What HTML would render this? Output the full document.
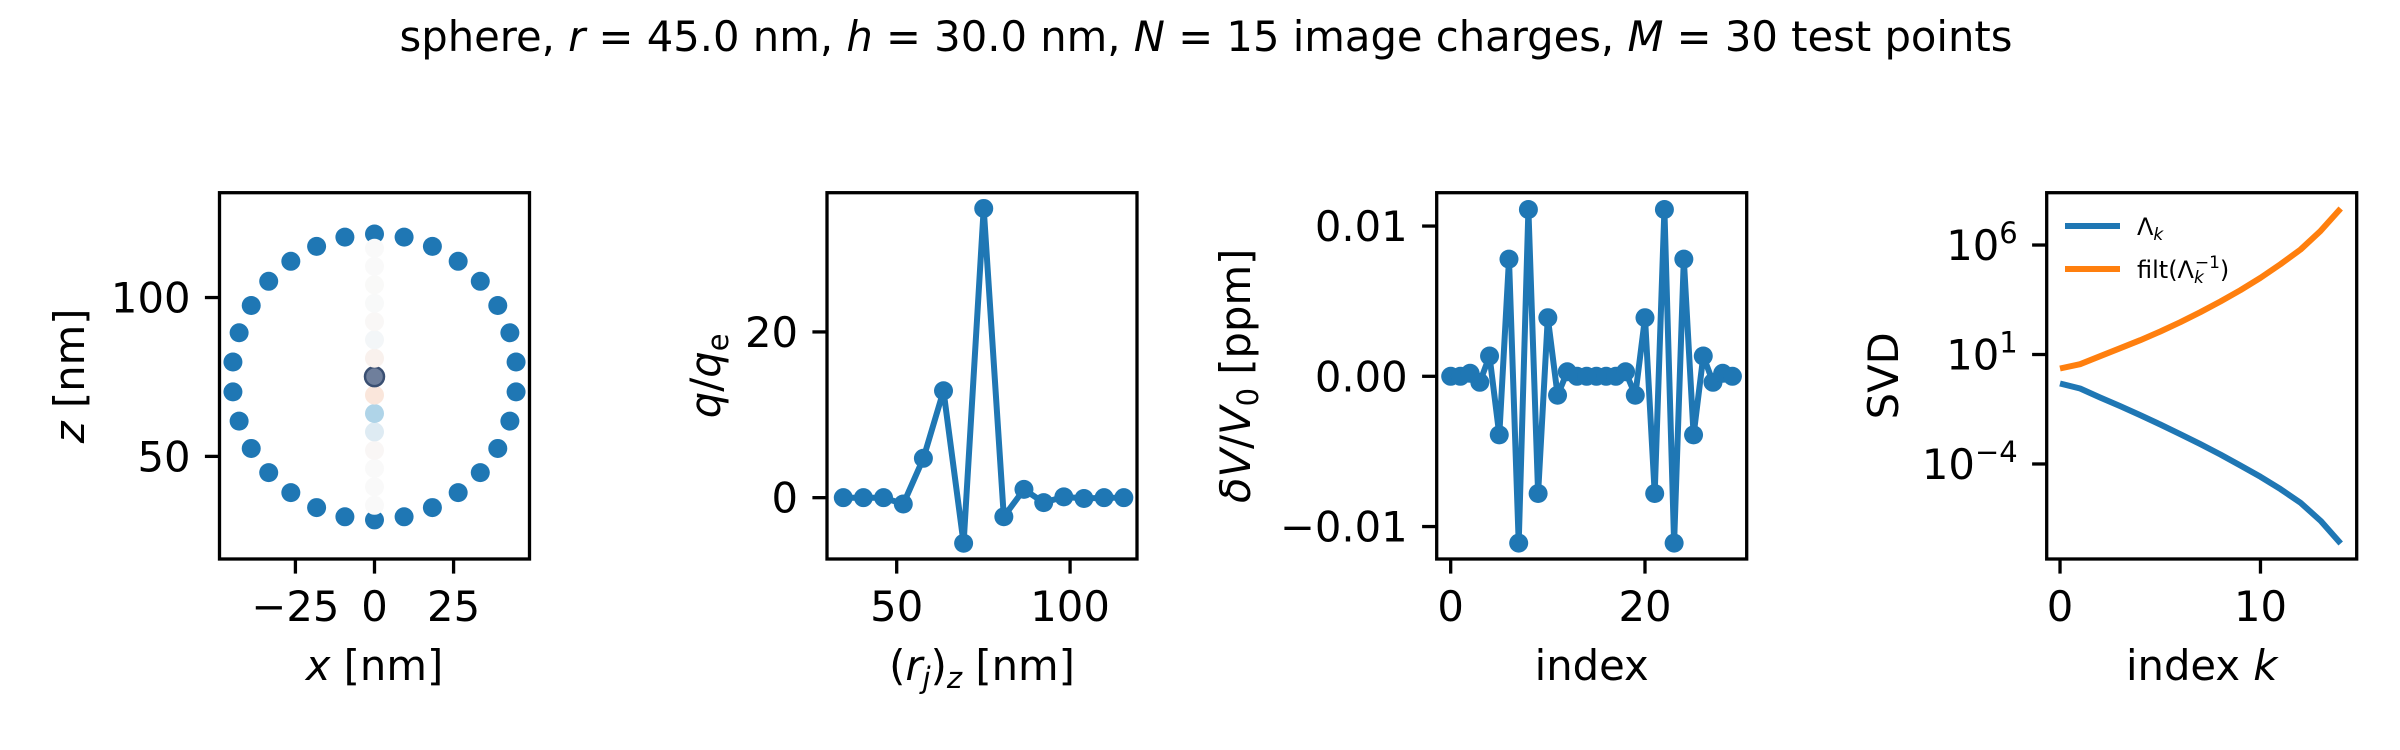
<!DOCTYPE html>
<html><head><meta charset="utf-8">
<style>
html,body{margin:0;padding:0;background:#fff;}
svg{display:block;font-family:"DejaVu Sans","Liberation Sans",sans-serif;}
text{fill:#000;}
</style></head>
<body>
<svg id="fig" width="2400" height="750" viewBox="0 0 2400 750" xmlns="http://www.w3.org/2000/svg">
<rect width="2400" height="750" fill="#fff"/>
<text x="1206" y="51" font-size="41.7" text-anchor="middle">sphere, <tspan font-style="italic">r</tspan> = 45.0 nm, <tspan font-style="italic">h</tspan> = 30.0 nm, <tspan font-style="italic">N</tspan> = 15 image charges, <tspan font-style="italic">M</tspan> = 30 test points</text>
<g id="p1"></g>
<g id="p2"></g>
<g id="p3"></g>
<g id="p4"></g>
</svg>
<script>
// ---- data ----
const chargeZ = [34.6, 40.4, 46.2, 51.9, 57.7, 63.5, 69.3, 75.1, 80.9, 86.7, 92.4, 98.2, 104.0, 109.8, 115.5];
const chargeQ = [0, 0, 0, -0.76, 4.75, 12.9, -5.5, 34.9, -2.3, 1.0, -0.6, 0.1, -0.1, 0, 0];
const sphereRadius = 45;
const sphereCenterZ = 75;
const testPointCount = 30;
const residualValues = [0, 0, 0.0002, -0.0004, 0.00135, -0.0039, 0.0078, -0.0111, 0.0111, -0.0078, 0.0039, -0.00126, 0.0003, 0, 0, 0, 0, 0, 0.0003, -0.00126, 0.0039, -0.0078, 0.0111, -0.0111, 0.0078, -0.0039, 0.00135, -0.0004, 0.0002, 0];
const lambdaValues = [0.474, 0.280, 0.109, 0.0438, 0.0170, 0.00637, 0.00230, 8.05e-4, 2.72e-4, 8.55e-5, 2.59e-5, 7.10e-6, 1.69e-6, 2.54e-7, 2.34e-8];
const filtInvValues = [2.30, 3.62, 8.39, 19.5, 45.1, 112, 299, 857, 2630, 8670, 3.17e4, 1.33e5, 6.24e5, 4.44e6, 4.65e7];
const p1XTicks = [-25, 0, 25];
const p1YTicks = [50, 100];
const p2XTicks = [50, 100];
const p2YTicks = [0, 20];
const p3XTicks = [0, 20];
const p3YTicks = [-0.01, 0, 0.01];
const p3YTickLabels = ["\u22120.01", "0.00", "0.01"];
const p4XTicks = [0, 10];
const p4YTickExps = [-4, 1, 6];

const NS = "http://www.w3.org/2000/svg";
const BLUE = "#1f77b4", ORANGE = "#ff7f0e";
const TOP = 192.7, BOT = 559, W = 310;
const MR = 9.5, LW = 6;
function el(tag, attrs, parent) {
  const e = document.createElementNS(NS, tag);
  for (const k in attrs) e.setAttribute(k, attrs[k]);
  parent.appendChild(e);
  return e;
}
function lin(d0, d1, r0, r1) { return v => r0 + (v - d0) / (d1 - d0) * (r1 - r0); }
function fmt(v) { return (v < 0 ? "\u2212" : "") + Math.abs(v); }

function frame(g, L) {
  const r = el("rect", {x: L, y: TOP, width: W, height: BOT - TOP, fill: "none", stroke: "#000", "stroke-width": 3.3}, g);
  
  
}
function xTicks(g, ticks, sx, labels) {
  ticks.forEach((t, i) => {
    const x = sx(t);
    const l = el("line", {x1: x, x2: x, y1: BOT, y2: BOT + 14.6, stroke: "#000", "stroke-width": 3.3}, g);
    
    
    const tx = el("text", {x: x, y: 621, "font-size": 41.7, "text-anchor": "middle"}, g);
    tx.textContent = labels ? labels[i] : fmt(t);
    
    
  });
}
function yTicks(g, L, ticks, sy, labels) {
  ticks.forEach((t, i) => {
    const y = sy(t);
    const l = el("line", {x1: L - 14.6, x2: L, y1: y, y2: y, stroke: "#000", "stroke-width": 3.3}, g);
    
    
    const tx = el("text", {x: L - 29, y: y + 15, "font-size": 41.7, "text-anchor": "end"}, g);
    tx.textContent = labels ? labels[i] : fmt(t);
    
    
  });
}
function xLabel(g, L, html) {
  const t = el("text", {x: L + W / 2, y: 680, "font-size": 41.7, "text-anchor": "middle"}, g);
  t.innerHTML = html;
  
  
}
function yLabel(g, bx, html) {
  const cy = (TOP + BOT) / 2;
  const t = el("text", {x: bx, y: cy, "font-size": 41.7, "text-anchor": "middle", transform: `rotate(-90 ${bx} ${cy})`}, g);
  t.innerHTML = html;
  
  
}
function mix(a, b, t) { return a.map((v, i) => Math.round(v + (b[i] - v) * t)); }
function chargeColor(q) {
  const t = Math.min(1, Math.abs(q) / 35);
  let c;
  if (q >= 0) {
    c = t < 0.37 ? mix([249,249,249], [175,212,232], t / 0.37) : mix([175,212,232], [55,80,120], (t - 0.37) / 0.63);
  } else {
    c = mix([249,249,249], [255,130,60], t);
  }
  return `rgb(${c[0]},${c[1]},${c[2]})`;
}

// ---- panel 1 ----
(function () {
  const g = document.getElementById("p1"), L = 219.5;
  const sx = lin(-49, 49, L, L + W), sy = lin(17.7, 133, BOT, TOP);
  for (let i = 0; i < testPointCount; i++) {
    const th = i * 2 * Math.PI / testPointCount;
    const c = el("circle", {cx: sx(sphereRadius * Math.sin(th)), cy: sy(sphereCenterZ + sphereRadius * Math.cos(th)), r: MR, fill: BLUE}, g);
    
    
  }
  chargeZ.forEach((z, i) => {
    const c = el("circle", {cx: sx(0), cy: sy(z), r: MR, fill: chargeColor(chargeQ[i])}, g);
    if (chargeQ[i] > 30) { c.setAttribute("stroke", "#3a4f72"); c.setAttribute("stroke-width", 2.5); c.setAttribute("fill", "#6f7f9c"); }
    
    
  });
  frame(g, L);
  xTicks(g, p1XTicks, sx);
  yTicks(g, L, p1YTicks, sy);
  xLabel(g, L, '<tspan font-style="italic">x</tspan> [nm]');
  yLabel(g, 84, '<tspan font-style="italic">z</tspan> [nm]');
})();

// ---- panel 2 ----
(function () {
  const g = document.getElementById("p2"), L = 827;
  const sx = lin(29.9, 119.3, L, L + W), sy = lin(-7.4, 36.8, BOT, TOP);
  const pts = chargeZ.map((z, i) => sx(z).toFixed(1) + "," + sy(chargeQ[i]).toFixed(1)).join(" ");
  const pl = el("polyline", {points: pts, fill: "none", stroke: BLUE, "stroke-width": LW, "stroke-linejoin": "round"}, g);
  
  
  chargeZ.forEach((z, i) => {
    const c = el("circle", {cx: sx(z), cy: sy(chargeQ[i]), r: MR, fill: BLUE}, g);
    
    
  });
  frame(g, L);
  xTicks(g, p2XTicks, sx);
  yTicks(g, L, p2YTicks, sy);
  xLabel(g, L, '(<tspan font-style="italic">r</tspan><tspan font-style="italic" font-size="29" dy="8">j</tspan><tspan dy="-8">)</tspan><tspan font-style="italic" font-size="29" dy="8">z</tspan><tspan dy="-8"> [nm]</tspan>');
  yLabel(g, 720, '<tspan font-style="italic">q</tspan>/<tspan font-style="italic">q</tspan><tspan font-size="29" dy="8">e</tspan>');
})();

// ---- panel 3 ----
(function () {
  const g = document.getElementById("p3"), L = 1436.7;
  const sx = lin(-1.44, 30.47, L, L + W), sy = lin(-0.01216, 0.01222, BOT, TOP);
  const pts = residualValues.map((v, i) => sx(i).toFixed(1) + "," + sy(v).toFixed(1)).join(" ");
  const pl = el("polyline", {points: pts, fill: "none", stroke: BLUE, "stroke-width": LW, "stroke-linejoin": "round"}, g);
  
  
  residualValues.forEach((v, i) => {
    const c = el("circle", {cx: sx(i), cy: sy(v), r: MR, fill: BLUE}, g);
    
    
  });
  frame(g, L);
  xTicks(g, p3XTicks, sx);
  yTicks(g, L, p3YTicks, sy, p3YTickLabels);
  xLabel(g, L, 'index');
  yLabel(g, 1250, '<tspan font-style="italic">δV</tspan>/<tspan font-style="italic">V</tspan><tspan font-size="29" dy="8">0</tspan><tspan dy="-8"> [ppm]</tspan>');
})();

// ---- panel 4 ----
(function () {
  const g = document.getElementById("p4"), L = 2046.7;
  const sx = lin(-0.665, 14.8, L, L + W);
  const syl = lin(-8.34, 8.39, BOT, TOP);
  const sy = v => syl(Math.log10(v));
  function line(vals, color, name) {
    const pts = vals.map((v, i) => sx(i).toFixed(1) + "," + sy(v).toFixed(1)).join(" ");
    const pl = el("polyline", {points: pts, fill: "none", stroke: color, "stroke-width": LW, "stroke-linejoin": "round"}, g);
    
    
  }
  line(lambdaValues, BLUE, 'lambda-line');
  line(filtInvValues, ORANGE, 'filt-inverse-line');
  frame(g, L);
  xTicks(g, p4XTicks, sx);
  p4YTickExps.forEach(e => {
    const y = syl(e);
    const l = el("line", {x1: L - 14.6, x2: L, y1: y, y2: y, stroke: "#000", "stroke-width": 3.3}, g);
    
    
    const t = el("text", {x: L - 29, y: y + 15, "font-size": 41.7, "text-anchor": "end"}, g);
    t.innerHTML = '10<tspan font-size="29" dy="-17">' + fmt(e) + '</tspan>';
    
    
  });
  xLabel(g, L, 'index <tspan font-style="italic">k</tspan>');
  yLabel(g, 1898, 'SVD');
  const lg = el("g", {}, g);
  
  
  const l1 = el("line", {x1: 2065, x2: 2120, y1: 226, y2: 226, stroke: BLUE, "stroke-width": LW}, lg);
  
  
  const t1 = el("text", {x: 2137, y: 235, "font-size": 24}, lg);
  t1.innerHTML = 'Λ<tspan font-style="italic" font-size="17" dy="5">k</tspan>';
  
  
  const l2 = el("line", {x1: 2065, x2: 2120, y1: 269, y2: 269, stroke: ORANGE, "stroke-width": LW}, lg);
  
  
  const t2 = el("text", {x: 2137, y: 278, "font-size": 24}, lg);
  t2.innerHTML = 'filt(Λ<tspan font-style="italic" font-size="17" dy="5">k</tspan><tspan font-size="17" dx="-9" dy="-15">−1</tspan><tspan dy="10">)</tspan>';
  
  
})();
</script>
</body></html>
